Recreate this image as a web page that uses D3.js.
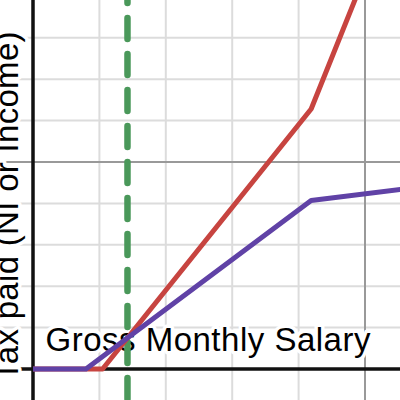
<!DOCTYPE html>
<html>
<head>
<meta charset="utf-8">
<script src="https://cdn.jsdelivr.net/npm/d3@7"></script>
<style>
  html, body { margin: 0; padding: 0; background: #fff; }
  svg { display: block; }
  .label {
    font-family: "Liberation Sans", Arial, sans-serif;
    font-size: 33px;
    fill: #000;
    stroke: #fff;
    stroke-width: 7;
    stroke-linejoin: round;
    paint-order: stroke;
  }
</style>
</head>
<body>
<div id="chart"></div>
<script>
const W = 400, H = 400;

// Gross monthly salary (GBP) at each corner of the lines
const niSalary = [0, 797, 4189, 5600];
const niPaid = [0, 0, 407, 435];
const taxSalary = [0, 1048, 4189, 5000];
const taxPaid = [0, 0, 628, 952];
const markerSalary = 1423;

// grid
const xGridMinor = [1000, 2000, 3000, 4000];
const xGridMajor = [5000];
const yGridMinor = [100, 200, 300, 400, 600, 700, 800];
const yGridMajor = [500];

const xLabel = "Gross Monthly Salary";
const yLabel = "Tax paid (NI or Income)";

const x = d3.scaleLinear().domain([0, 5000]).range([33, 365]);
const y = d3.scaleLinear().domain([0, 500]).range([369, 162]);

const svg = d3.select("#chart")
  .append("svg")
  .attr("width", W)
  .attr("height", H);

// --- grid lines
const grid = svg.append("g");
grid.selectAll(".vminor").data(xGridMinor).enter().append("line")
  .attr("x1", d => x(d)).attr("x2", d => x(d))
  .attr("y1", 0).attr("y2", H)
  .attr("stroke", "#dcdcdc").attr("stroke-width", 2);
grid.selectAll(".hminor").data(yGridMinor).enter().append("line")
  .attr("y1", d => y(d)).attr("y2", d => y(d))
  .attr("x1", 0).attr("x2", W)
  .attr("stroke", "#dcdcdc").attr("stroke-width", 2);
grid.selectAll(".vmajor").data(xGridMajor).enter().append("line")
  .attr("x1", d => x(d)).attr("x2", d => x(d))
  .attr("y1", 0).attr("y2", H)
  .attr("stroke", "#999").attr("stroke-width", 2);
grid.selectAll(".hmajor").data(yGridMajor).enter().append("line")
  .attr("y1", d => y(d)).attr("y2", d => y(d))
  .attr("x1", 0).attr("x2", W)
  .attr("stroke", "#999").attr("stroke-width", 2);

// --- axes
svg.append("line")
  .attr("x1", x(0)).attr("x2", x(0)).attr("y1", 0).attr("y2", H)
  .attr("stroke", "#111").attr("stroke-width", 3.5);
svg.append("line")
  .attr("x1", 0).attr("x2", W).attr("y1", y(0)).attr("y2", y(0))
  .attr("stroke", "#111").attr("stroke-width", 3.5);

// --- labels (white halo over the grid)
svg.append("text")
  .attr("class", "label")
  .attr("x", 45.5)
  .attr("y", 351)
  .style("letter-spacing", "0.5px")
  .text(xLabel);

svg.append("text")
  .attr("class", "label")
  .attr("transform", "translate(18,381) rotate(-90)")
  .style("letter-spacing", "0.3px")
  .text(yLabel);

// --- dashed marker
svg.append("line")
  .attr("x1", x(markerSalary)).attr("x2", x(markerSalary))
  .attr("y1", y(y.invert(0))).attr("y2", y(y.invert(H)))
  .attr("stroke", "#4a985a")
  .attr("stroke-width", 6.5)
  .attr("stroke-linecap", "round")
  .attr("stroke-dasharray", "21 15")
  .attr("stroke-dashoffset", 18);

// --- lines
const line = d3.line().x(d => x(d[0])).y(d => y(d[1]));

svg.append("path")
  .datum(d3.zip(taxSalary, taxPaid))
  .attr("d", line)
  .attr("fill", "none")
  .attr("stroke", "#c74440")
  .attr("stroke-width", 5)
  .attr("stroke-linejoin", "round");

svg.append("path")
  .datum(d3.zip(niSalary, niPaid))
  .attr("d", line)
  .attr("fill", "none")
  .attr("stroke", "#6042a6")
  .attr("stroke-width", 5)
  .attr("stroke-linejoin", "round");
</script>
</body>
</html>
